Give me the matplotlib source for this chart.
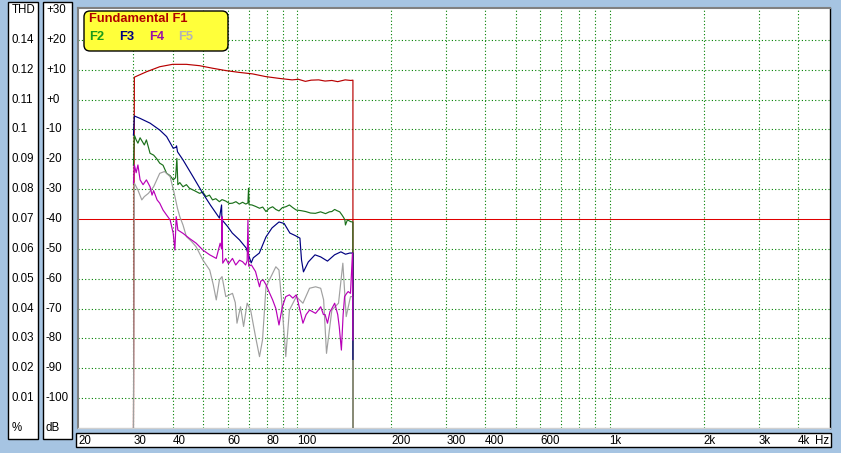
import matplotlib
matplotlib.use('Agg')
import matplotlib.pyplot as plt
from matplotlib import font_manager, transforms
from matplotlib.patches import Rectangle, FancyBboxPatch

# ---------------- data ----------------
f1_freq = [30, 30.2, 33.0, 36.4, 40.0, 44.3, 48.8, 53.7, 59.3, 65.4, 72.1, 79.4, 87.6, 96.5, 101, 106.4,
           111, 117.3, 123, 129.3, 135, 142.6, 148.6, 151, 151]
f1_db = [-110, 7.5, 9.3, 11.0, 11.8, 11.8, 11.35, 10.5, 9.7, 9.1, 8.6, 7.7, 7.1, 6.6, 6.8, 6.1,
         6.5, 6.6, 6.2, 6.4, 6.0, 6.6, 6.4, 6.5, -110]

f2_freq = [30, 30.2, 30.6, 31.0, 31.5, 32.0, 32.5, 33.0, 33.5, 33.9, 34.8, 35.6, 36.4, 37.3, 38.3, 39.3,
           40.2, 40.9, 41.3, 41.6, 42.2, 43.2, 44.3, 45.3, 47.0, 48.8, 50.0, 51.2, 52.5, 53.7, 55.0, 56.5,
           57.6, 59.2, 60.8, 62.2, 63.8, 65.4, 67.0, 68.6, 69.7, 70.0, 70.3, 71.8, 73.8, 75.9, 77.7, 79.6,
           81.6, 83.6, 85.6, 87.6, 89.8, 92.1, 94.6, 97.0, 99.5, 103, 106.6, 110.5, 114.5, 119, 123.4, 127,
           129.3, 132, 134.2, 137, 139.4, 141, 142.3, 142.9, 145, 148.6, 151, 151]
f2_db = [-22, -11.9, -13.5, -14.6, -12.8, -14.0, -15.2, -13.5, -16.0, -18.0, -18.6, -19.8, -21.3, -22.0, -24.7, -25.5,
         -26.9, -26.2, -19.7, -28.5, -27.8, -29.2, -28.5, -29.7, -30.5, -31.4, -31.0, -32.5, -32.0, -33.6, -33.2, -34.2,
         -33.5, -34.0, -34.8, -34.7, -34.2, -35.0, -34.4, -35.0, -34.6, -29.7, -35.2, -35.3, -35.8, -36.4, -36.0, -37.5,
         -36.4, -35.9, -36.8, -37.3, -36.2, -35.9, -35.3, -36.2, -37.0, -37.2, -37.5, -38.0, -38.1, -37.6, -38.2, -37.6,
         -37.5, -36.8, -37.2, -37.6, -38.7, -39.5, -40.3, -42.0, -40.3, -40.9, -41.0, -110]

f3_freq = [30, 30.2, 31.5, 33.9, 36.4, 38.3, 40.2, 41.0, 41.2, 41.5, 43.2, 46.5, 50.0, 53, 56.5, 57.4,
           57.6, 57.8, 60, 62.1, 65.5, 68.8, 71.4, 72.5, 75.8, 79.6, 83.2, 87.6, 91, 94.9, 98.5, 102.2,
           103.4, 104.9, 108.7, 114.2, 119.1, 125.2, 131.9, 138.2, 143, 147.5, 151, 151]
f3_db = [-11.9, -5.5, -6.3, -7.9, -10.2, -12.4, -16.3, -16.0, -15.5, -17.5, -20.2, -25.8, -31.4, -35.5, -39.7, -35.3,
         -42.7, -40.5, -42.5, -44.7, -47.0, -49.7, -54.7, -53.0, -51.4, -46.0, -43.0, -41.0, -41.5, -44.7, -45.5, -46.4,
         -53.7, -57.7, -54.4, -52.0, -52.7, -54.1, -52.0, -51.0, -51.8, -51.4, -51.4, -87]

f4_freq = [30, 30.2, 30.6, 31.0, 31.5, 32.2, 33.0, 33.9, 34.4, 34.8, 35.7, 36.4, 37.3, 38.3, 39.3, 40.2,
           40.7, 41.1, 41.6, 43.2, 45.3, 47.6, 50.0, 52.6, 55.2, 56.8, 57.4, 57.6, 57.9, 59.2, 60.4, 62.2,
           63.7, 65.5, 67.0, 68.5, 69.3, 69.7, 70.1, 71.5, 73.7, 75.9, 76.6, 78.0, 79.6, 81.5, 83.6, 85.6,
           87.6, 89.8, 92.1, 94.6, 97, 99.5, 102, 104.5, 107, 109.7, 112, 114.7, 117, 119.1, 121.5, 123,
           125.2, 127.5, 129.3, 132.0, 135, 136.5, 138.7, 140.5, 142.0, 144, 145.8, 148.3, 150.5, 151]
f4_db = [-28, -21.9, -24.5, -21.9, -26.9, -28.5, -26.9, -29.2, -32.0, -30.5, -33.6, -34.7, -37.0, -38.7, -40.3, -44.8,
         -50.4, -39.2, -43.7, -44.8, -46.5, -48.1, -50.4, -52.0, -53.2, -48.1, -50, -39.2, -54.8, -53.2, -55.0, -53.2,
         -55.4, -53.8, -54.3, -55.4, -54.0, -40.3, -55.8, -55.4, -57.6, -62.7, -60.8, -60.4, -62.0, -64.5, -67.1, -70.0,
         -75.5, -69.4, -66.0, -65.4, -66.5, -65.4, -70.0, -74.9, -72.0, -70.5, -71.0, -71.6, -70.5, -69.4, -72.0, -72.0,
         -74.9, -71.0, -70.0, -68.2, -72.0, -76.0, -83.9, -72.0, -66.0, -65.0, -64.3, -64.9, -51.4, -80.5]

f5_freq = [30, 30.2, 31.0, 31.9, 32.5, 33.5, 34.8, 36.4, 37.7, 39.3, 40.5, 41.5, 42.2, 43.2, 44.3, 46.0,
           47.6, 50.0, 52.6, 54.0, 55.2, 56.5, 57.6, 59.2, 62.2, 63.5, 64.3, 66.0, 67.5, 69.3, 71.1, 73.7,
           75.9, 77.6, 79.6, 82.6, 85.6, 87.6, 89.8, 92.1, 94.6, 99.5, 104.5, 109.7, 114.7, 119.1, 121.7, 124.3,
           129.3, 135.8, 140.2, 143.7, 148.3, 151, 151]
f5_db = [-110, -28, -30.3, -33.6, -32.5, -31.4, -29.2, -24.7, -24.1, -25.8, -31.4, -36.5, -39.2, -42.0, -45.9, -47.5,
         -49.3, -53.7, -57.1, -62.0, -67.1, -60.4, -59.3, -66.0, -64.9, -68.0, -74.9, -69.4, -76.0, -68.2, -70.5, -79.4,
         -86.1, -80.5, -62.7, -59.3, -56.0, -57.1, -70.5, -86.1, -70.5, -66.0, -68.2, -63.2, -62.7, -63.2, -67.1, -85.0,
         -70.5, -68.2, -54.8, -72.7, -66.0, -66.0, -110]

ref_level_db = -40

db_levels = [30, 20, 10, 0, -10, -20, -30, -40, -50, -60, -70, -80, -90, -100, -110]
thd_labels = ["THD", "0.14", "0.12", "0.11", "0.1", "0.09", "0.08", "0.07", "0.06", "0.05",
              "0.04", "0.03", "0.02", "0.01", "%"]
db_labels = ["+30", "+20", "+10", "+0", "-10", "-20", "-30", "-40", "-50", "-60",
             "-70", "-80", "-90", "-100", "dB"]
grid_db = [20, 10, 0, -10, -20, -30, -50, -60, -70, -80, -90, -100]
grid_freq = [30, 40, 50, 60, 70, 80, 90, 100, 200, 300, 400, 500, 600, 700, 800, 900,
             1000, 2000, 3000, 4000]
xtick_freq = [20, 30, 40, 60, 80, 100, 200, 300, 400, 600, 1000, 2000, 3000, 4000]
xtick_labels = ["20", "30", "40", "60", "80", "100", "200", "300", "400", "600", "1k", "2k", "3k", "4k"]

# ---------------- figure ----------------
W, H = 841, 453
fig = plt.figure(figsize=(W / 100, H / 100), dpi=100)
fig.patch.set_facecolor('#A6C4E2')

avail = {f.name for f in font_manager.fontManager.ttflist}
if 'Liberation Sans Narrow' in avail:
    tfont = dict(family='Liberation Sans Narrow', size=9.5)
else:
    tfont = dict(family='Liberation Sans', size=8.3)

L, R, T, B = 78.4, 830, 8, 428
ax = fig.add_axes([L / W, 1 - B / H, (R - L) / W, (B - T) / H])
ax.set_facecolor('white')
ax.set_xscale('log')
ax.set_xlim(20, 5066)
ax.set_ylim(-110, 30 + 2 / 2.986)
ax.set_xticks([])
ax.set_yticks([])
ax.minorticks_off()
ax.tick_params(which='both', length=0, labelbottom=False, labelleft=False)
for s in ['left', 'top']:
    ax.spines[s].set_color('#808080')
    ax.spines[s].set_linewidth(1.5)
ax.spines['right'].set_color('#000000')
ax.spines['right'].set_linewidth(1.0)
ax.spines['bottom'].set_color('#D0D0D0')
ax.spines['bottom'].set_linewidth(1.0)

gstyle = dict(color='#008000', lw=0.8, ls=(0, (1, 2)), zorder=1)
for g in grid_db:
    ax.axhline(g, **gstyle)
for g in grid_freq:
    ax.axvline(g, **gstyle)

ax.axhline(ref_level_db, color='#E00000', lw=0.75, zorder=2)

lw = 0.85
ax.plot(f1_freq, f1_db, color='#B80000', lw=lw, zorder=3)
ax.plot(f2_freq, f2_db, color='#1A701A', lw=lw, zorder=4)
ax.plot(f5_freq, f5_db, color='#A0A0A0', lw=lw, zorder=5)
ax.plot(f3_freq, f3_db, color='#000080', lw=lw, zorder=6)
ax.plot(f4_freq, f4_db, color='#B800B8', lw=lw, zorder=7)

# left scale boxes
fig.add_artist(Rectangle((8 / W, 1 - 439 / H), 30 / W, 437 / H, transform=fig.transFigure,
                         facecolor='white', edgecolor='black', lw=1.0))
fig.add_artist(Rectangle((42.5 / W, 1 - 439 / H), 29 / W, 437 / H, transform=fig.transFigure,
                         facecolor='white', edgecolor='black', lw=1.0))
ytrans = transforms.blended_transform_factory(fig.transFigure, ax.transData)
for lvl, lab in zip(db_levels, thd_labels):
    fig.text(12 / W, lvl, lab, transform=ytrans, ha='left', va='center', color='black', **tfont)
for lvl, lab in zip(db_levels, db_labels):
    fig.text(46 / W, lvl, lab, transform=ytrans, ha='left', va='center', color='black', **tfont)

# bottom frequency label box
fig.add_artist(Rectangle((76 / W, 1 - 447 / H), 755 / W, 14 / H, transform=fig.transFigure,
                         facecolor='white', edgecolor='black', lw=1.0))
xtrans = transforms.blended_transform_factory(ax.transData, fig.transFigure)
for fr, lab in zip(xtick_freq, xtick_labels):
    fig.text(fr, 1 - 440.5 / H, lab, transform=xtrans, ha='left', va='center', color='black', **tfont)
fig.text(815 / W, 1 - 440.5 / H, "Hz", ha='left', va='center', color='black', **tfont)

# legend box
idt = transforms.IdentityTransform()
fig.add_artist(FancyBboxPatch((84, H - 51), 144, 40, boxstyle='round,pad=0,rounding_size=6',
                              transform=idt, facecolor='#FFFF3A', edgecolor='black', lw=1.0))
lfont = dict(family='Liberation Sans', size=9.3, weight='bold')
fig.text(89 / W, 1 - 19 / H, "Fundamental F1", color='#B00000', ha='left', va='center', **lfont)
for xx, lab, c in [(89, "F2", '#1A9A1A'), (119, "F3", '#000080'), (149, "F4", '#9A10A8'), (178, "F5", '#B4B4B4')]:
    fig.text(xx / W, 1 - 37 / H, lab, color=c, ha='left', va='center', **lfont)

fig.savefig('out.png', dpi=100, facecolor=fig.get_facecolor())
